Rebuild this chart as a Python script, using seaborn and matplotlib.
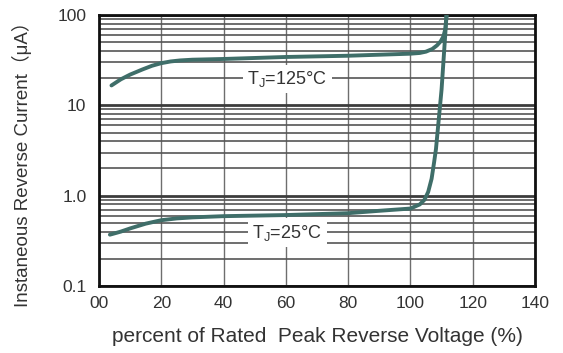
"""Typical reverse characteristics: instantaneous reverse current vs. percent of rated voltage."""

import matplotlib

matplotlib.use("Agg")
import matplotlib.pyplot as plt
import pandas as pd
import seaborn as sns
from matplotlib.ticker import FixedLocator, LogLocator, NullFormatter


# 读取自图片的曲线数据（x：额定峰值反向电压百分比，y：反向电流 μA）
pct_125 = [4, 7, 10, 14, 17, 20, 23, 26, 30, 40, 60, 80, 100, 103, 105, 107, 108.5, 109.7, 110.6, 111.2, 111.6]
cur_125 = [16.6, 19.4, 21.9, 25.0, 27.4, 29.3, 30.6, 31.4, 32.0, 32.6, 34.3, 35.4, 37.3, 38.0, 39.3, 42.0, 46.0, 51.0, 58.0, 70.0, 100.0]

pct_25 = [3.5, 7, 10, 15, 20, 25, 30, 40, 60, 80, 90, 100, 103, 104.5, 105.7, 106.8, 107.6, 108.2, 110, 111.6]
cur_25 = [0.37, 0.40, 0.434, 0.49, 0.535, 0.56, 0.575, 0.593, 0.61, 0.64, 0.68, 0.72, 0.80, 0.90, 1.10, 1.54, 2.34, 3.28, 15.0, 100.0]

temps = ["125", "25"]
curve_labels = ["T$\\mathregular{_J}$=125°C", "T$\\mathregular{_J}$=25°C"]

x_ticks = [0, 20, 40, 60, 80, 100, 120, 140]
x_tick_labels = ["00", "20", "40", "60", "80", "100", "120", "140"]
y_ticks = [0.1, 1, 10, 100]
y_tick_labels = ["0.1", "1.0", "10", "100"]

LINE_COLOR = "#3f6e69"
TEXT_COLOR = "#333333"

sns.set_theme(style="white")
plt.rcParams["font.family"] = ["Liberation Sans", "Noto Sans CJK SC", "DejaVu Sans"]
plt.rcParams["mathtext.fontset"] = "custom"
plt.rcParams["mathtext.rm"] = "Liberation Sans"

df = pd.concat(
    [
        pd.DataFrame({"pct": pct_125, "current": cur_125, "temp": temps[0]}),
        pd.DataFrame({"pct": pct_25, "current": cur_25, "temp": temps[1]}),
    ],
    ignore_index=True,
)

fig = plt.figure(figsize=(5.63, 3.53), dpi=100)
ax = fig.add_axes([99 / 563, 1 - 286 / 353, 436 / 563, 271 / 353])

sns.lineplot(
    data=df,
    x="pct",
    y="current",
    hue="temp",
    units="temp",
    estimator=None,
    palette={t: LINE_COLOR for t in temps},
    linewidth=2.8,
    legend=False,
    ax=ax,
    zorder=3,
)

ax.set_yscale("log")
ax.set_xlim(0, 140)
ax.set_ylim(0.1, 100)

ax.xaxis.set_major_locator(FixedLocator(x_ticks))
ax.set_xticks(x_ticks, x_tick_labels)
ax.yaxis.set_major_locator(FixedLocator(y_ticks))
ax.set_yticks(y_ticks, y_tick_labels)
ax.yaxis.set_minor_locator(LogLocator(base=10, subs=range(2, 10)))
ax.yaxis.set_minor_formatter(NullFormatter())

ax.set_axisbelow(True)
ax.grid(which="major", axis="x", color="#6e6e6e", linewidth=1.0)
ax.grid(which="major", axis="y", color="#3c3c3c", linewidth=2.0)
ax.grid(which="minor", axis="y", color="#555555", linewidth=1.2)

ax.tick_params(axis="both", which="both", length=0, labelsize=12.5, labelcolor=TEXT_COLOR)
ax.tick_params(axis="x", pad=7)
ax.tick_params(axis="y", pad=9)

for spine in ax.spines.values():
    spine.set_color("#111111")
    spine.set_linewidth(2.0)

# 曲线标注，白底遮挡网格线
for label, (lx, ly) in zip(curve_labels, [(60.5, 19.5), (60.5, 0.39)]):
    ax.text(
        lx, ly, label,
        ha="center", va="center", fontsize=13, color=TEXT_COLOR, zorder=2,
        bbox=dict(facecolor="white", edgecolor="none", pad=3),
    )

ax.set_xlabel("percent of Rated  Peak Reverse Voltage (%)", fontsize=15, color=TEXT_COLOR)
ax.set_ylabel("Instaneous Reverse Current（μA）", fontsize=13.5, color=TEXT_COLOR)
ax.xaxis.label.set_va("center")
ax.yaxis.label.set_va("center")
ax.xaxis.set_label_coords((317 - 99) / 436, -(337 - 286) / 271)
ax.yaxis.set_label_coords(-(99 - 22) / 436, (286 - 160) / 271)

fig.savefig("out.png", dpi=100)
